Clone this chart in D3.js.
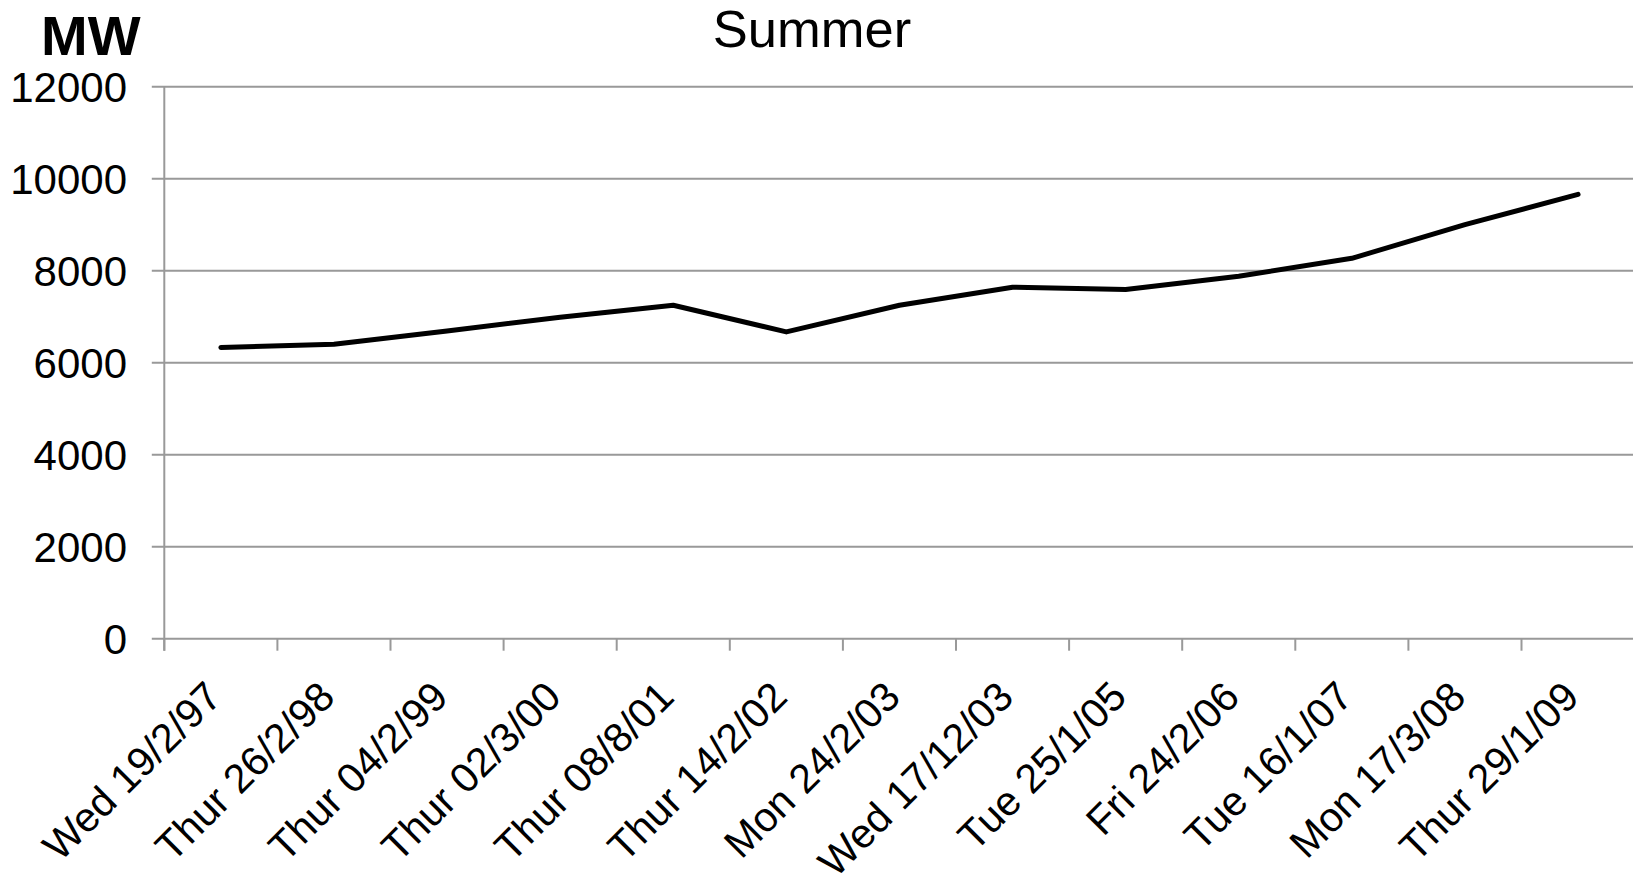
<!DOCTYPE html>
<html>
<head>
<meta charset="utf-8">
<script src="https://cdn.jsdelivr.net/npm/d3@7"></script>
<style>
  html, body { margin: 0; padding: 0; background: #fff; }
  svg { display: block; }
  text { font-family: "Liberation Sans", Arial, sans-serif; fill: #000; }
</style>
</head>
<body>
<svg id="chart" width="1633" height="886"></svg>
<script>
const categories = ["Wed 19/2/97", "Thur 26/2/98", "Thur 04/2/99", "Thur 02/3/00", "Thur 08/8/01",
  "Thur 14/2/02", "Mon 24/2/03", "Wed 17/12/03", "Tue 25/1/05", "Fri 24/2/06",
  "Tue 16/1/07", "Mon 17/3/08", "Thur 29/1/09"];
const demandMW = [6330, 6400, 6690, 6990, 7250, 6670, 7250, 7640, 7590, 7880, 8270, 9000, 9660];
const yTicks = [0, 2000, 4000, 6000, 8000, 10000, 12000];
const titleText = "Summer";
const unitText = "MW";

const svg = d3.select("#chart");
const plotLeft = 164.3, plotRight = 1634.6, plotTop = 86.7, plotBottom = 638.7;

const x = d3.scaleBand().domain(categories).range([plotLeft, plotRight]).padding(0);
const y = d3.scaleLinear().domain([0, 12000]).range([plotBottom, plotTop]);
const gridColor = "#999999";

// gridlines
svg.append("g").selectAll("line").data(yTicks).join("line")
  .attr("x1", plotLeft - 12.5).attr("x2", plotRight)
  .attr("y1", d => y(d)).attr("y2", d => y(d))
  .attr("stroke", gridColor).attr("stroke-width", 2);

// y axis line
svg.append("line").attr("x1", plotLeft).attr("x2", plotLeft).attr("y1", plotTop).attr("y2", plotBottom + 12)
  .attr("stroke", gridColor).attr("stroke-width", 2);

// x ticks at band edges
svg.append("g").selectAll("line").data(categories).join("line")
  .attr("x1", d => x(d)).attr("x2", d => x(d))
  .attr("y1", plotBottom).attr("y2", plotBottom + 12)
  .attr("stroke", gridColor).attr("stroke-width", 2);

// y tick labels
svg.append("g").selectAll("text").data(yTicks).join("text")
  .attr("x", 127).attr("y", d => y(d))
  .attr("dy", "0.36em")
  .attr("text-anchor", "end")
  .attr("font-size", 42)
  .text(d => d);

// x labels
svg.append("g").selectAll("text").data(categories).join("text")
  .attr("text-anchor", "end")
  .attr("font-size", 41)
  .attr("transform", d => `translate(${x(d) + x.bandwidth() / 2 + 3},${699}) rotate(-45)`)
  .text(d => d);

// line
const line = d3.line()
  .x((d, i) => x(categories[i]) + x.bandwidth() / 2)
  .y(d => y(d));
svg.append("path").datum(demandMW)
  .attr("d", line)
  .attr("fill", "none")
  .attr("stroke", "#000")
  .attr("stroke-width", 5)
  .attr("stroke-linejoin", "round")
  .attr("stroke-linecap", "round");

// title
svg.append("text").attr("x", 812).attr("y", 47).attr("text-anchor", "middle")
  .attr("font-size", 52.5).text(titleText);

// unit label
svg.append("text").attr("x", 41).attr("y", 55).attr("font-size", 56)
  .attr("font-weight", "bold").text(unitText);
</script>
</body>
</html>
